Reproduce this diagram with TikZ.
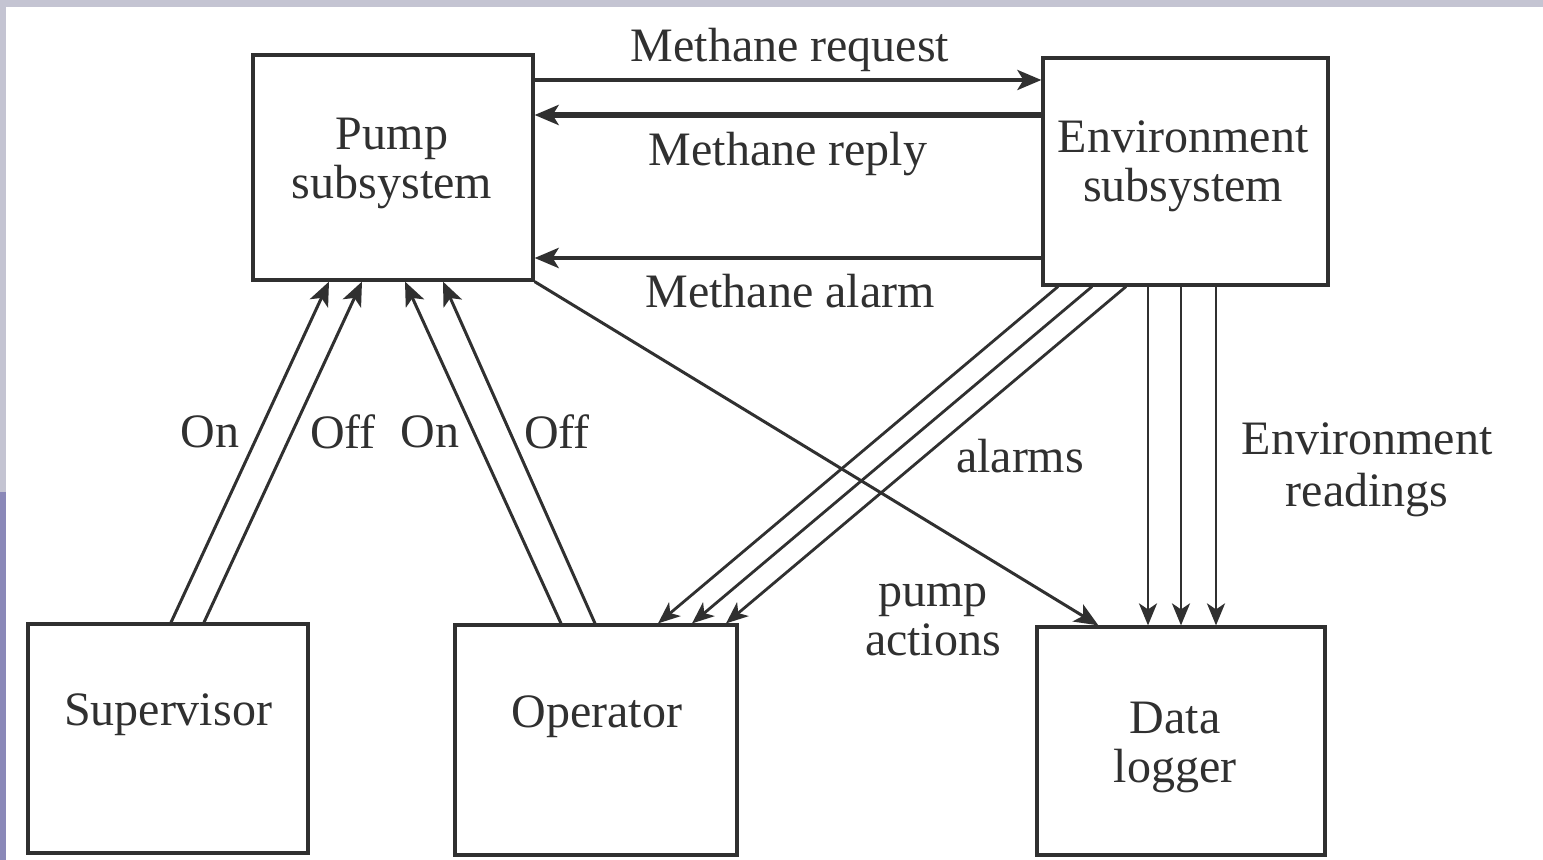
\documentclass[tikz,border=0pt]{standalone}
\usepackage{fontspec}
\setmainfont{Liberation Serif}
\usetikzlibrary{arrows.meta,calc}
\definecolor{ink}{HTML}{303030}
\definecolor{frameA}{HTML}{C4C4D2}
\definecolor{frameB}{HTML}{8A88B8}
\begin{document}
\begin{tikzpicture}[x=0.5pt,y=-0.5pt,
  box/.style={draw=ink,line width=1.6pt,fill=white,inner sep=0pt},
  lbl/.style={text=ink,align=center,inner sep=0pt,font=\fontsize{24}{24.5}\selectfont},
  flow/.style={draw=ink,line width=1.5pt,-{Stealth[length=12pt,width=10pt,inset=3pt]}},
  thin/.style={draw=ink,line width=1.4pt,-{Stealth[length=11pt,width=9pt,inset=3pt]}}]
% page and frame strips
\useasboundingbox (0,0) rectangle (1543,860);
\fill[white] (0,0) rectangle (1543,860);
\fill[frameA] (0,0) rectangle (1543,7);
\fill[frameA] (0,0) rectangle (6,492);
\fill[frameB] (0,492) rectangle (6,860);

% subsystem boxes
\node[box,minimum width=140pt,minimum height=112.5pt] (pump) at (393,167.5) {};
\node[box,minimum width=142.5pt,minimum height=113.5pt] (env) at (1185.5,171.5) {};
\node[box,minimum width=140pt,minimum height=114.5pt] (sup) at (168,738.5) {};
\node[box,minimum width=141pt,minimum height=115pt] (op) at (596,740) {};
\node[box,minimum width=144pt,minimum height=114pt] (dl) at (1181,741) {};

\node[lbl] (pumpt) at (392,163) {Pump\\subsystem};
\node[lbl] (envt) at (1183,166) {Environment\\subsystem};
\node[lbl] (supt) at (168,715) {Supervisor};
\node[lbl] (opt) at (597,717) {Operator};
\node[lbl] (dlt) at (1175,747) {Data\\logger};

% methane messages
\draw[flow,line width=2pt] ($(pump.east)+(0,-87.5)$) -- ($(env.west)+(0,-91.5)$);
\draw[flow,line width=3pt] ($(env.west)+(0,-56.5)$) -- ($(pump.east)+(0,-52.5)$);
\draw[flow,line width=2.4pt] ($(env.west)+(0,86.5)$) -- ($(pump.east)+(0,90.5)$);
\node[lbl] (mreq) at (790,50) {Methane request};
\node[lbl] (mrep) at (788,154) {Methane reply};
\node[lbl] (malm) at (790,291) {Methane alarm};

% on/off commands
\draw[flow] ($(sup.north)+(3,0)$) -- ($(pump.south)+(-64,0)$);
\draw[flow] ($(sup.north)+(36,0)$) -- ($(pump.south)+(-31,0)$);
\draw[flow] ($(op.north)+(-35,0)$) -- ($(pump.south)+(12,0)$);
\draw[flow] ($(op.north)+(-1,0)$) -- ($(pump.south)+(50,0)$);
\node[lbl] (on1) at (210,432) {On};
\node[lbl] (off1) at (343,432) {Off};
\node[lbl] (on2) at (430,432) {On};
\node[lbl] (off2) at (557,432) {Off};

% pump actions to the logger
\draw[flow] (pump.south east) -- ($(dl.north west)+(63,0)$);
\node[lbl] (pact) at (933,620) {pump\\actions};

% alarms to the operator
\draw[thin] ($(env.south)+(-127.5,0)$) -- ($(op.north)+(62,0)$);
\draw[thin] ($(env.south)+(-93.5,0)$) -- ($(op.north)+(96,0)$);
\draw[thin] ($(env.south)+(-59.5,0)$) -- ($(op.north)+(130,0)$);
\node[lbl] (alm) at (1020,456) {alarms};

% environment readings to the logger
\draw[thin] ($(env.south)+(-37.5,0)$) -- ($(dl.north)+(-33,0)$);
\draw[thin] ($(env.south)+(-4.5,0)$) -- ($(dl.north)+(0,0)$);
\draw[thin] ($(env.south)+(30.5,0)$) -- ($(dl.north)+(35,0)$);
\node[lbl,font=\fontsize{24}{26}\selectfont] (envr) at (1367,470) {Environment\\readings};
\end{tikzpicture}
\end{document}
